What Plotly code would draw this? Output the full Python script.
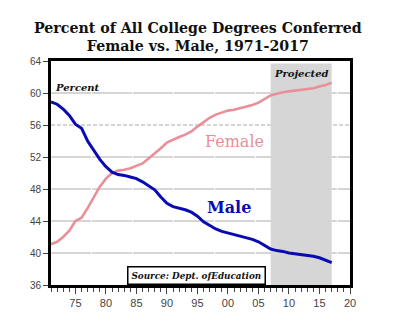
import plotly.graph_objects as go

# Share of all college degrees conferred, by sex (percent), 1971-2017
years = list(range(1971, 2018))
male = [58.9, 58.6, 58.0, 57.2, 56.1, 55.6, 54.0, 52.9, 51.7, 50.8,
        50.1, 49.8, 49.7, 49.5, 49.3, 48.9, 48.4, 47.9, 47.0, 46.2,
        45.8, 45.6, 45.4, 45.1, 44.6, 43.9, 43.4, 43.0, 42.7, 42.5,
        42.3, 42.1, 41.9, 41.7, 41.4, 41.0, 40.5, 40.3, 40.2, 40.0,
        39.9, 39.8, 39.7, 39.6, 39.4, 39.1, 38.8]
female = [41.1, 41.4, 42.0, 42.8, 44.0, 44.4, 45.6, 46.9, 48.3, 49.3,
          50.0, 50.3, 50.4, 50.6, 50.9, 51.2, 51.8, 52.4, 53.1, 53.8,
          54.2, 54.5, 54.8, 55.2, 55.8, 56.4, 56.9, 57.3, 57.6, 57.8,
          57.9, 58.1, 58.3, 58.5, 58.8, 59.2, 59.7, 59.9, 60.1, 60.2,
          60.3, 60.4, 60.5, 60.6, 60.8, 61.0, 61.3]

projection_span = [2007, 2017]
y_ticks = [36, 40, 44, 48, 52, 56, 60, 64]
x_ticks = [1975, 1980, 1985, 1990, 1995, 2000, 2005, 2010, 2015, 2020]
x_tick_labels = ["75", "80", "85", "90", "95", "00", "05", "10", "15", "20"]
title_text = "Percent of All College Degrees Conferred<br>Female vs. Male, 1971-2017"

MALE_BLUE = "#0a0ab4"
FEMALE_PINK = "#e98f98"
GRID = "#c8c8c8"
SERIF = "DejaVu Serif"

fig = go.Figure()
fig.add_trace(go.Scatter(x=years, y=female, mode="lines",
                         line=dict(color=FEMALE_PINK, width=2.6), hoverinfo="skip"))
fig.add_trace(go.Scatter(x=years, y=male, mode="lines",
                         line=dict(color=MALE_BLUE, width=3), hoverinfo="skip"))

# horizontal grid lines, the 56 line dashed
for v in y_ticks[1:-1]:
    fig.add_shape(type="line", xref="paper", x0=0, x1=1, yref="y", y0=v, y1=v,
                  line=dict(color=GRID, width=1.3,
                            dash="4px,2px" if v == 56 else "40px,1px"),
                  layer="between")

# projected period shading
fig.add_shape(type="rect", xref="x", yref="y",
              x0=projection_span[0], x1=projection_span[1], y0=36, y1=63.7,
              fillcolor="#d6d6d6", line=dict(width=0), layer="between")

fig.add_annotation(xref="paper", yref="paper", x=0.49, y=1.105, text=f"<b>{title_text}</b>",
                   showarrow=False, xanchor="center", yanchor="middle",
                   font=dict(family=SERIF, size=14.2, color="#111"))

fig.add_annotation(x=1971.3, y=60.7, text="<b><i>Percent</i></b>", showarrow=False,
                   xanchor="left", font=dict(family=SERIF, size=10, color="#111"))
fig.add_annotation(x=2012, y=62.45, text="<b><i>Projected</i></b>", showarrow=False,
                   font=dict(family=SERIF, size=10, color="#111"))
fig.add_annotation(x=2001, y=53.9, text="Female", showarrow=False,
                   font=dict(family=SERIF, size=16, color=FEMALE_PINK))
fig.add_annotation(x=2000.2, y=45.75, text="<b>Male</b>", showarrow=False,
                   font=dict(family=SERIF, size=16, color=MALE_BLUE))
fig.add_annotation(x=1994.9, y=36, yanchor="bottom",
                   text="<b><i>Source: Dept. ofEducation</i></b>", showarrow=False,
                   font=dict(family=SERIF, size=8.8, color="#111"),
                   bgcolor="white", bordercolor="black", borderwidth=1.5, borderpad=3)

fig.update_layout(
    width=400, height=331,
    margin=dict(l=51, r=50, t=61, b=46),
    paper_bgcolor="white", plot_bgcolor="white",
    showlegend=False,
    xaxis=dict(range=[1971, 2020], tickvals=x_ticks, ticktext=x_tick_labels,
               showgrid=False, zeroline=False,
               showline=True, linecolor="black", linewidth=3, mirror=True,
               ticks="outside", ticklen=6, tickcolor="#444", tickwidth=1,
               minor=dict(dtick=1, tick0=1971, ticks="outside", ticklen=4,
                          tickcolor="#444", tickwidth=1),
               tickfont=dict(family="Arial, Liberation Sans", size=11, color="#444")),
    yaxis=dict(range=[36, 64], tickvals=y_ticks, showgrid=False, zeroline=False,
               showline=True, linecolor="black", linewidth=3, mirror=True,
               ticks="outside", ticklen=5, tickcolor="#444", tickwidth=1,
               tickfont=dict(family="Arial, Liberation Sans", size=10, color="#444")),
)

fig.write_html("out.html")
